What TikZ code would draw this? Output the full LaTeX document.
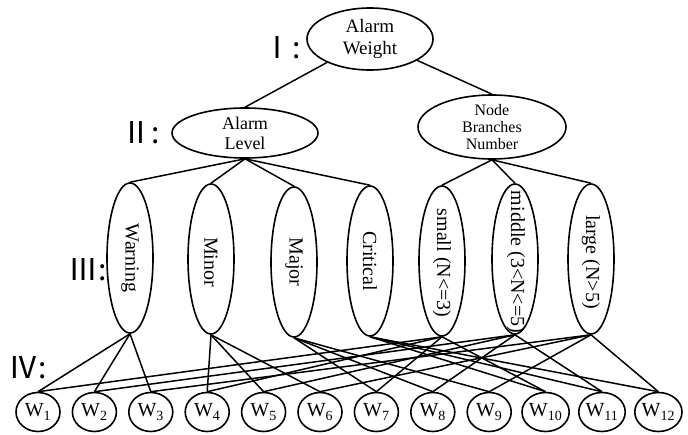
\documentclass[tikz,border=0pt]{standalone}
\usepackage{fontspec}
\setmainfont{Liberation Serif}
\newfontfamily\cjkfont{Noto Sans CJK SC}
\usetikzlibrary{shapes.geometric}
\begin{document}
\begin{tikzpicture}[x=1pt,y=-1pt,
  ell/.style={draw, ellipse, line width=1.6pt, inner sep=0pt},
  topell/.style={ell, minimum width=126pt, minimum height=62pt, align=center,
    font=\fontsize{19}{22}\selectfont},
  midell/.style={ell, minimum width=146pt, minimum height=50pt, align=center,
    font=\fontsize{18}{20}\selectfont},
  vell/.style={ell, minimum width=46pt, minimum height=150pt},
  vtext/.style={rotate=-90, inner sep=0pt, font=\fontsize{20}{22}\selectfont},
  wnode/.style={ell, minimum width=44pt, minimum height=39pt, font=\fontsize{20}{22}\selectfont},
  roman/.style={inner sep=0pt, font=\cjkfont\fontsize{30}{30}\selectfont},
  link/.style={line width=1.5pt}
]
\useasboundingbox (0,0) rectangle (688,434);

% level I
\node[topell] (aw) at (370,39) {Alarm\\Weight};
% level II
\node[midell] (al) at (245,133) {Alarm\\Level};
\node[midell, minimum width=148pt, minimum height=56pt, font=\fontsize{16}{17}\selectfont] (nb) at (492,127) {Node\\Branches\\Number};

% level III ellipses
\node[vell] (warn) at (130,258) {};
\node[vell] (minor) at (211,259) {};
\node[vell] (major) at (294,262) {};
\node[vell] (crit) at (370,261) {};
\node[vell] (small) at (442,261) {};
\node[vell] (mid) at (515,259) {};
\node[vell] (large) at (591,259) {};
% level III texts
\node[vtext] (warnt) at (130,258) {Warning};
\node[vtext] (minort) at (211,262) {Minor};
\node[vtext] (majort) at (294,262) {Major};
\node[vtext] (critt) at (370,261) {Critical};
\node[vtext] (smallt) at (442,263) {small (N<=3)};
\node[vtext] (midt) at (516,262) {middle (3<N<=5)};
\node[vtext] (larget) at (591,262) {large (N>5)};

% level IV
\foreach \i in {1,...,12} {
  \node[wnode] (w\i) at ({38+56.4*(\i-1)},412) {W\textsubscript{\i}};
}

% level labels
\node[roman] (r1) at (282,48) {Ⅰ:};
\node[roman] (r2) at (141,133) {Ⅱ:};
\node[roman] (r3) at (88,270) {Ⅲ:};
\node[roman] (r4) at (28,368) {Ⅳ:};

% connectors
\draw[link] (aw) -- (al.north);
\draw[link] (aw) -- (nb.north);
\foreach \t in {warn,minor,major,crit} \draw[link] (al.south) -- (\t.north);
\foreach \t in {small,mid,large} \draw[link] (nb.south) -- (\t.north);

\foreach \w in {1,2,3} \draw[link] (warn.south) -- (w\w.north);
\foreach \w in {4,5,6} \draw[link] (minor.south) -- (w\w.north);
\foreach \w in {7,8,9} \draw[link] (major.south) -- (w\w.north);
\foreach \w in {10,11,12} \draw[link] (crit.south) -- (w\w.north);
\foreach \w in {1,4,7,10} \draw[link] (small.south) -- (w\w.north);
\foreach \w in {2,5,8,11} \draw[link] (mid.south) -- (w\w.north);
\foreach \w in {3,6,9,12} \draw[link] (large.south) -- (w\w.north);
\end{tikzpicture}
\end{document}
